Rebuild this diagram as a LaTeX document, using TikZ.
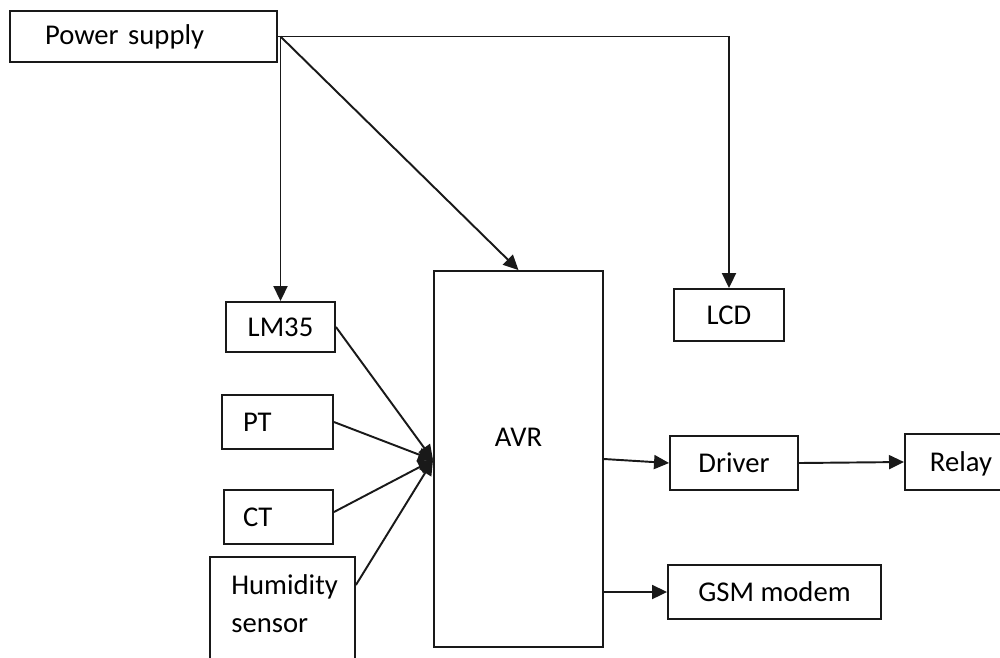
\documentclass[tikz,border=0pt]{standalone}
\usepackage{fontspec}
\setmainfont{Carlito}
\usetikzlibrary{arrows.meta,positioning,calc}

\begin{document}
\begin{tikzpicture}[x=0.02cm,y=-0.02cm,
	font=\fontsize{16.3}{21.5}\selectfont,
	blockbox/.style={draw=black!90,line width=1.1pt,inner sep=0pt},
	padbox/.style 2 args={blockbox,inner xsep=#1,text width=#2,align=left},
	arr/.style={draw=black!90,line width=1.1pt,-{Triangle[length=0.3cm,width=0.28cm]}},
	wire/.style={draw=black!90,line width=1.1pt}]
	\useasboundingbox (0,0) rectangle (1000,657);
	% blocks
	\node[padbox={0.7cm}{3.94cm},minimum height=1.02cm] (power) at (143.5,36.5) {Power supply};
	\node[blockbox,minimum width=2.18cm,minimum height=1cm] (lm35) at (280.5,327) {LM35};
	\node[padbox={0.42cm}{1.38cm},minimum height=1.08cm] (pt) at (277.5,422) {PT};
	\node[padbox={0.38cm}{1.42cm},minimum height=1.08cm] (ct) at (278.5,517) {CT};
	\node[blockbox,anchor=north west,minimum width=2.9cm,minimum height=2.6cm] (humid) at (209,556) {};
	\node[anchor=north west,align=left,inner sep=0pt] (humidtext) at ([xshift=0.44cm,yshift=-0.36cm]humid.north west) {Humidity\\sensor};
	\node[blockbox,minimum width=3.38cm,minimum height=7.52cm] (avr) at (518.5,459) {};
	\node (avrtext) at ([yshift=0.44cm]avr.center) {AVR};
	\node[blockbox,minimum width=2.2cm,minimum height=1.04cm] (lcd) at (729,315) {LCD};
	\node[blockbox,minimum width=2.56cm,minimum height=1.08cm] (driver) at (734,463) {Driver};
	\node[padbox={0.5cm}{1.4cm},minimum height=1.12cm,text depth=0pt,anchor=west] (relay) at (904,462) {Relay};
	\node[blockbox,minimum width=4.26cm,minimum height=1.08cm] (gsm) at (774.5,592) {GSM modem};
	% supply lines
	\coordinate (tap) at (lm35.north |- power.east);
	\draw[arr] (power.east) -| (lcd.north);
	\draw[arr] (tap) -- (lm35.north);
	\draw[arr] (tap) -- (avr.north);
	% sensor inputs
	\coordinate (hub) at (avr.west |- 0,460);
	\draw[arr] (lm35.east) -- (hub);
	\draw[arr] (pt.east) -- (hub);
	\draw[arr] ([yshift=0.1cm]ct.east) -- (hub);
	\draw[arr] ([yshift=-0.58cm]humid.north east) -- (hub);
	% outputs
	\draw[arr] (avr.east) -- (driver.west);
	\draw[arr] (driver.east) -- (relay.west);
	\draw[arr] (avr.east |- gsm.west) -- (gsm.west);
\end{tikzpicture}
\end{document}
